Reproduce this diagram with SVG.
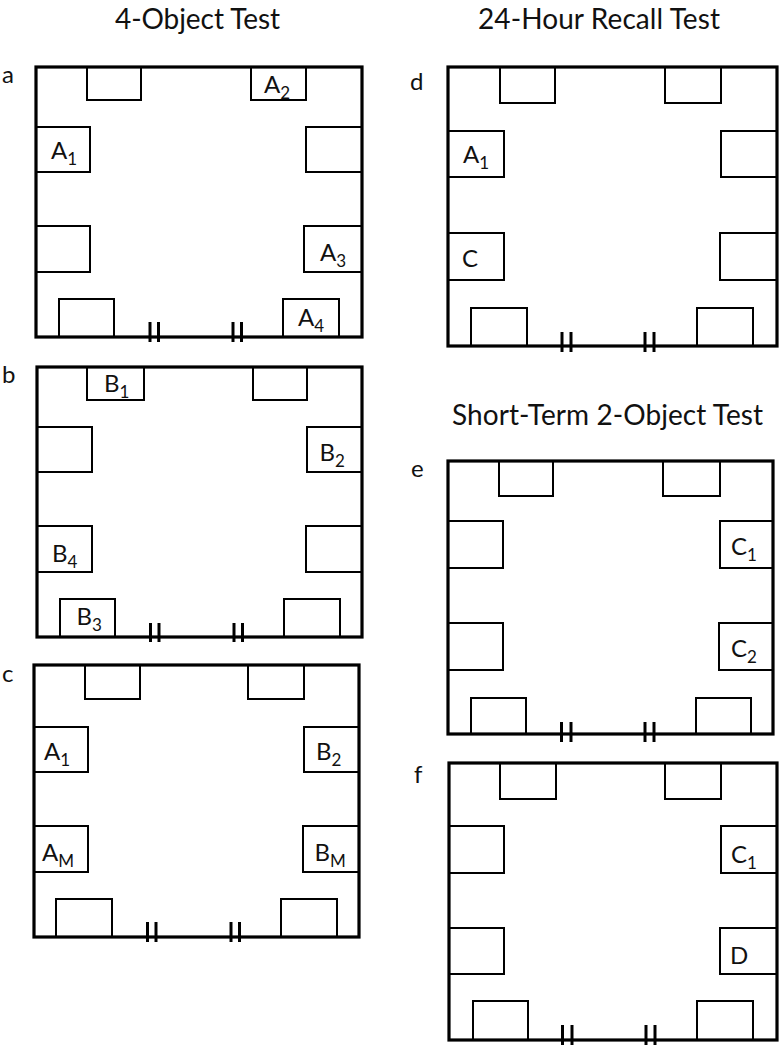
<svg xmlns="http://www.w3.org/2000/svg" width="779" height="1050" viewBox="0 0 779 1050">
<style>
  .wall { fill: none; stroke: #000; stroke-width: 3.2; stroke-linejoin: miter; }
  .box { fill: #fff; stroke: #000; stroke-width: 2; }
  .tick { stroke: #000; stroke-width: 3; }
  text { font-family: Lato, "Liberation Sans", sans-serif; fill: #111; }
  .title { font-size: 28px; }
  .plabel { font-size: 24px; }
  .obj { font-size: 24px; }
  .sub { font-size: 17px; }
</style>
<rect width="779" height="1050" fill="#fff"/>

<g id="titles">
  <text class="title" x="115" y="29" textLength="165">4-Object Test</text>
  <text class="title" x="478" y="29" textLength="242">24-Hour Recall Test</text>
  <text class="title" x="452" y="425" textLength="311">Short-Term 2-Object Test</text>
</g>

<g id="panel-a">
  <text class="plabel" x="2" y="83">a</text>
  <rect class="box" x="87" y="67" width="54" height="33"/>
  <rect class="box" x="251" y="67" width="55" height="33"/>
  <rect class="box" x="36" y="127" width="54" height="45"/>
  <rect class="box" x="36" y="226" width="54" height="46"/>
  <rect class="box" x="306" y="127" width="56" height="45"/>
  <rect class="box" x="304" y="226" width="58" height="46"/>
  <rect class="box" x="59" y="299" width="55" height="38"/>
  <rect class="box" x="283" y="299" width="56" height="38"/>
  <rect class="wall" x="36" y="67" width="326" height="270"/>
  <line class="tick" x1="150" y1="322" x2="150" y2="342"/>
  <line class="tick" x1="158.5" y1="322" x2="158.5" y2="342"/>
  <line class="tick" x1="233" y1="322" x2="233" y2="342"/>
  <line class="tick" x1="241.5" y1="322" x2="241.5" y2="342"/>
  <text class="obj" x="264" y="93">A<tspan class="sub" dy="6">2</tspan></text>
  <text class="obj" x="51" y="159">A<tspan class="sub" dy="6">1</tspan></text>
  <text class="obj" x="320" y="261">A<tspan class="sub" dy="6">3</tspan></text>
  <text class="obj" x="298" y="326">A<tspan class="sub" dy="6">4</tspan></text>
</g>

<g id="panel-b">
  <text class="plabel" x="2" y="383">b</text>
  <rect class="box" x="87" y="367" width="57" height="33"/>
  <rect class="box" x="253" y="367" width="54" height="33"/>
  <rect class="box" x="37" y="427" width="55" height="45"/>
  <rect class="box" x="37" y="526" width="55" height="46"/>
  <rect class="box" x="307" y="427" width="55" height="45"/>
  <rect class="box" x="306" y="526" width="56" height="46"/>
  <rect class="box" x="60" y="599" width="55" height="38"/>
  <rect class="box" x="284" y="599" width="56" height="38"/>
  <rect class="wall" x="37" y="367" width="325" height="270"/>
  <line class="tick" x1="150.5" y1="623" x2="150.5" y2="642"/>
  <line class="tick" x1="159" y1="623" x2="159" y2="642"/>
  <line class="tick" x1="234" y1="623" x2="234" y2="642"/>
  <line class="tick" x1="242.5" y1="623" x2="242.5" y2="642"/>
  <text class="obj" x="104" y="392">B<tspan class="sub" dy="6">1</tspan></text>
  <text class="obj" x="319.5" y="461">B<tspan class="sub" dy="6">2</tspan></text>
  <text class="obj" x="52" y="562">B<tspan class="sub" dy="6">4</tspan></text>
  <text class="obj" x="76.5" y="625">B<tspan class="sub" dy="6">3</tspan></text>
</g>

<g id="panel-c">
  <text class="plabel" x="2" y="682">c</text>
  <rect class="box" x="85" y="665" width="55" height="34"/>
  <rect class="box" x="248" y="665" width="56" height="34"/>
  <rect class="box" x="34" y="727" width="54" height="45"/>
  <rect class="box" x="34" y="826" width="54" height="46"/>
  <rect class="box" x="304" y="727" width="55" height="45"/>
  <rect class="box" x="303" y="826" width="56" height="46"/>
  <rect class="box" x="56" y="899" width="56" height="38"/>
  <rect class="box" x="281" y="899" width="56" height="38"/>
  <rect class="wall" x="34" y="665" width="325" height="272"/>
  <line class="tick" x1="147.5" y1="922" x2="147.5" y2="942"/>
  <line class="tick" x1="156" y1="922" x2="156" y2="942"/>
  <line class="tick" x1="231" y1="922" x2="231" y2="942"/>
  <line class="tick" x1="239.5" y1="922" x2="239.5" y2="942"/>
  <text class="obj" x="44" y="760">A<tspan class="sub" dy="6">1</tspan></text>
  <text class="obj" x="42" y="861">A<tspan class="sub" dy="6">M</tspan></text>
  <text class="obj" x="316" y="760">B<tspan class="sub" dy="6">2</tspan></text>
  <text class="obj" x="314.5" y="861">B<tspan class="sub" dy="6">M</tspan></text>
</g>

<g id="panel-d">
  <text class="plabel" x="410" y="90">d</text>
  <rect class="box" x="500" y="67" width="55" height="36"/>
  <rect class="box" x="665" y="67" width="56" height="36"/>
  <rect class="box" x="448" y="131" width="56" height="46"/>
  <rect class="box" x="448" y="233" width="56" height="47"/>
  <rect class="box" x="721" y="131" width="56" height="46"/>
  <rect class="box" x="720" y="233" width="57" height="47"/>
  <rect class="box" x="471" y="308" width="56" height="38"/>
  <rect class="box" x="697" y="308" width="56" height="38"/>
  <rect class="wall" x="448" y="67" width="329" height="279"/>
  <line class="tick" x1="562" y1="332" x2="562" y2="352"/>
  <line class="tick" x1="571" y1="332" x2="571" y2="352"/>
  <line class="tick" x1="645" y1="332" x2="645" y2="352"/>
  <line class="tick" x1="654" y1="332" x2="654" y2="352"/>
  <text class="obj" x="463" y="163">A<tspan class="sub" dy="6">1</tspan></text>
  <text class="obj" x="462" y="267">C</text>
</g>

<g id="panel-e">
  <text class="plabel" x="411" y="477">e</text>
  <rect class="box" x="499" y="461" width="54" height="35"/>
  <rect class="box" x="663" y="461" width="57" height="35"/>
  <rect class="box" x="448" y="521" width="55" height="47"/>
  <rect class="box" x="448" y="623" width="55" height="47"/>
  <rect class="box" x="720" y="521" width="53" height="47"/>
  <rect class="box" x="719" y="623" width="54" height="47"/>
  <rect class="box" x="471" y="698" width="55" height="36"/>
  <rect class="box" x="696" y="698" width="55" height="36"/>
  <rect class="wall" x="448" y="461" width="325" height="273"/>
  <line class="tick" x1="561.5" y1="722" x2="561.5" y2="742"/>
  <line class="tick" x1="571" y1="722" x2="571" y2="742"/>
  <line class="tick" x1="645" y1="722" x2="645" y2="742"/>
  <line class="tick" x1="654" y1="722" x2="654" y2="742"/>
  <text class="obj" x="731" y="555">C<tspan class="sub" dy="6">1</tspan></text>
  <text class="obj" x="731" y="657">C<tspan class="sub" dy="6">2</tspan></text>
</g>

<g id="panel-f">
  <text class="plabel" x="414" y="783">f</text>
  <rect class="box" x="500" y="763" width="56" height="36"/>
  <rect class="box" x="665" y="763" width="56" height="36"/>
  <rect class="box" x="449" y="826" width="55" height="47"/>
  <rect class="box" x="449" y="928" width="55" height="46"/>
  <rect class="box" x="721" y="826" width="56" height="47"/>
  <rect class="box" x="720" y="928" width="57" height="46"/>
  <rect class="box" x="473" y="1001" width="55" height="39"/>
  <rect class="box" x="697" y="1001" width="56" height="39"/>
  <rect class="wall" x="449" y="763" width="328" height="277"/>
  <line class="tick" x1="562.5" y1="1025" x2="562.5" y2="1045"/>
  <line class="tick" x1="572" y1="1025" x2="572" y2="1045"/>
  <line class="tick" x1="646" y1="1025" x2="646" y2="1045"/>
  <line class="tick" x1="655" y1="1025" x2="655" y2="1045"/>
  <text class="obj" x="731" y="863">C<tspan class="sub" dy="6">1</tspan></text>
  <text class="obj" x="730" y="964">D</text>
</g>

<g id="connectors"></g>
</svg>
